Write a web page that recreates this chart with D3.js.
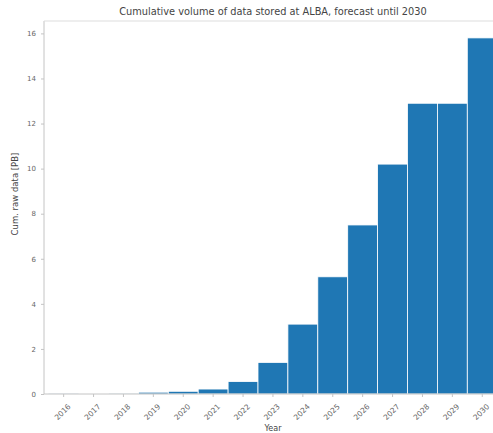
<!DOCTYPE html>
<html>
<head>
<meta charset="utf-8">
<script src="https://cdn.jsdelivr.net/npm/d3@7"></script>
<style>
  html, body { margin: 0; padding: 0; background: #fff; }
  svg { display: block; font-family: "DejaVu Sans", sans-serif; }
</style>
</head>
<body>
<svg id="chart" width="493" height="433"></svg>
<script>
// Cumulative stored data per year (PB)
const years = ["2016","2017","2018","2019","2020","2021","2022","2023",
               "2024","2025","2026","2027","2028","2029","2030"];
const cumulativePB = [0.01, 0.02, 0.04, 0.08, 0.12, 0.22, 0.55, 1.4,
                      3.1, 5.2, 7.5, 10.2, 12.9, 12.9, 15.8];
const yTicks = [0, 2, 4, 6, 8, 10, 12, 14, 16];

const title = "Cumulative volume of data stored at ALBA, forecast until 2030";
const xLabel = "Year";
const yLabel = "Cum. raw data [PB]";

const svg = d3.select("#chart");

const plot = { left: 44, right: 502, top: 21, bottom: 394 };

const x = d3.scaleBand()
  .domain(years)
  .range([48.7, 48.7 + 29.9 * years.length])
  .paddingInner(0).paddingOuter(0);

const y = d3.scaleLinear()
  .domain([0, 16.55])
  .range([plot.bottom, plot.top]);

// bars
svg.append("g")
  .selectAll("rect")
  .data(years.map((yr, i) => ({ yr, v: cumulativePB[i] })))
  .join("rect")
  .attr("x", d => x(d.yr))
  .attr("y", d => y(d.v))
  .attr("width", x.bandwidth())
  .attr("height", d => y(0) - y(d.v))
  .attr("fill", "#1f77b4")
  .attr("stroke", "#ffffff")
  .attr("stroke-width", 0.8);

// frame
const spine = "#c4c4c4";
svg.append("line").attr("x1", plot.left).attr("x2", plot.left)
  .attr("y1", plot.top).attr("y2", plot.bottom)
  .attr("stroke", spine).attr("stroke-width", 1);
svg.append("line").attr("x1", plot.left).attr("x2", plot.right)
  .attr("y1", plot.bottom).attr("y2", plot.bottom)
  .attr("stroke", spine).attr("stroke-width", 1);
svg.append("line").attr("x1", plot.left).attr("x2", plot.right)
  .attr("y1", plot.top).attr("y2", plot.top)
  .attr("stroke", "#dddddd").attr("stroke-width", 1);

// y axis
const yAxis = d3.axisLeft(y).tickValues(yTicks).tickSize(3).tickPadding(5);
const gy = svg.append("g")
  .attr("transform", `translate(${plot.left},0)`)
  .call(yAxis);
gy.select(".domain").remove();
gy.selectAll(".tick line").attr("stroke", "#c4c4c4");
gy.selectAll(".tick text")
  .attr("fill", "#666").style("font-size", "7px")
  .style("font-family", "DejaVu Sans, sans-serif");

// x axis
const xAxis = d3.axisBottom(x).tickSize(3).tickPadding(0);
const gx = svg.append("g")
  .attr("transform", `translate(0,${plot.bottom})`)
  .call(xAxis);
gx.select(".domain").remove();
gx.selectAll(".tick line").attr("stroke", "#c4c4c4");
gx.selectAll(".tick text")
  .attr("fill", "#666").style("font-size", "7.5px")
  .style("font-family", "DejaVu Sans, sans-serif")
  .attr("y", 0).attr("dy", 0)
  .attr("text-anchor", "middle")
  .attr("dominant-baseline", "central")
  .attr("transform", "translate(-1,18) rotate(-45)");

// titles
svg.append("text")
  .attr("x", 273).attr("y", 15)
  .attr("text-anchor", "middle")
  .attr("fill", "#444")
  .style("font-size", "9.8px")
  .text(title);

svg.append("text")
  .attr("x", 273).attr("y", 431)
  .attr("text-anchor", "middle")
  .attr("fill", "#444")
  .style("font-size", "8px")
  .text(xLabel);

svg.append("text")
  .attr("transform", "translate(18,194) rotate(-90)")
  .attr("text-anchor", "middle")
  .attr("fill", "#444")
  .style("font-size", "8.5px")
  .text(yLabel);
</script>
</body>
</html>
